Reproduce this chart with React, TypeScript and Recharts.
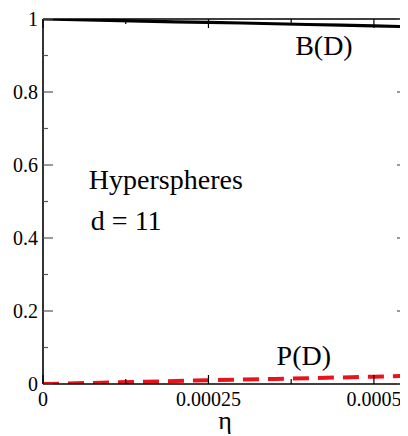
import React from 'react';
import { ComposedChart, Line, XAxis, YAxis, ReferenceDot } from 'recharts';

const etaValues = [0, 0.00005, 0.0001, 0.00015, 0.0002, 0.00025, 0.0003, 0.00035, 0.0004, 0.00045, 0.0005, 0.00055];
const bValues = [1.0, 0.998, 0.996, 0.994, 0.992, 0.9905, 0.989, 0.987, 0.985, 0.983, 0.981, 0.979];
const pValues = [0.0, 0.002, 0.004, 0.006, 0.008, 0.0105, 0.012, 0.014, 0.016, 0.018, 0.020, 0.022];

const xMajorTicks = [0, 0.00025, 0.0005];
const xMinorTicks = [0.000125, 0.000375];
const xTickLabels = ['0', '0.00025', '0.0005'];
const yMajorTicks = [0, 0.2, 0.4, 0.6, 0.8, 1];
const yMinorTicks = [0.1, 0.3, 0.5, 0.7, 0.9];
const yTickLabels = ['0', '0.2', '0.4', '0.6', '0.8', '1'];

const annotations = [
  { text: 'B(D)', eta: 0.000381, y: 0.901 },
  { text: 'P(D)', eta: 0.000353, y: 0.052 },
  { text: 'Hyperspheres', eta: 0.0000693, y: 0.534 },
  { text: 'd = 11', eta: 0.0000723, y: 0.422 },
];

const data = etaValues.map((eta, i) => ({ eta, B: bValues[i], P: pValues[i] }));

const FONT = "'Liberation Serif', 'Times New Roman', Times, serif";
const xTicks = [...xMajorTicks, ...xMinorTicks].sort((a, b) => a - b);
const yTicks = [...yMajorTicks, ...yMinorTicks].sort((a, b) => a - b);

const findIdx = (arr: number[], v: number) => arr.findIndex((t) => Math.abs(t - v) < 1e-9);

const txtStyle = (size: number) => ({ fontFamily: FONT, fontSize: size, fill: '#000' });

const BottomTick = (props: any) => {
  const { x, y, payload } = props;
  const idx = findIdx(xMajorTicks, payload.value);
  const major = idx >= 0;
  return (
    <g>
      <line x1={x} y1={y} x2={x} y2={y - (major ? 9 : 5)} stroke="#000" strokeWidth={1.2} />
      {major && (
        <text x={x} y={y + 22} textAnchor="middle" style={txtStyle(20)}>
          {xTickLabels[idx]}
        </text>
      )}
    </g>
  );
};

const TopTick = (props: any) => {
  const { x, y, payload } = props;
  const major = findIdx(xMajorTicks, payload.value) >= 0;
  return <line x1={x} y1={y} x2={x} y2={y + (major ? 9 : 5)} stroke="#000" strokeWidth={1.2} />;
};

const LeftTick = (props: any) => {
  const { x, y, payload } = props;
  const idx = findIdx(yMajorTicks, payload.value);
  const major = idx >= 0;
  return (
    <g>
      <line x1={x} y1={y} x2={x + (major ? 10 : 5)} y2={y} stroke="#555" strokeWidth={1.2} />
      {major && (
        <text x={x - 5} y={y + 7} textAnchor="end" style={txtStyle(20)}>
          {yTickLabels[idx]}
        </text>
      )}
    </g>
  );
};

const RightTick = (props: any) => {
  const { x, y, payload } = props;
  const major = findIdx(yMajorTicks, payload.value) >= 0;
  return <line x1={x} y1={y} x2={x - (major ? 10 : 5)} y2={y} stroke="#555" strokeWidth={1.2} />;
};

const AnnotationShape = (text: string) => (props: any) => (
  <text x={props.cx} y={props.cy} textAnchor="start" style={txtStyle(28)}>
    {text}
  </text>
);

const EtaLabel = (props: any) => {
  const vb = props.viewBox || { x: 0, y: 0, width: 0 };
  return (
    <text x={vb.x + vb.width / 2} y={vb.y + 45} textAnchor="middle" style={txtStyle(26)}>
      η
    </text>
  );
};

export default function App() {
  return (
    <ComposedChart
      width={400}
      height={428}
      data={data}
      margin={{ top: 10, right: 0, left: 34, bottom: 51 }}
      style={{ background: '#fff', fontFamily: FONT }}
    >
      <XAxis
        xAxisId="bottom"
        dataKey="eta"
        type="number"
        domain={[0, 0.00055]}
        allowDataOverflow
        ticks={xTicks}
        interval={0}
        height={1}
        tickSize={0}
        tickMargin={0}
        tickLine={false}
        tick={BottomTick}
        axisLine={{ stroke: '#000', strokeWidth: 1.6 }}
        label={{ content: EtaLabel }}
      />
      <XAxis
        xAxisId="top"
        orientation="top"
        dataKey="eta"
        type="number"
        domain={[0, 0.00055]}
        allowDataOverflow
        ticks={xTicks}
        interval={0}
        height={1}
        tickSize={0}
        tickMargin={0}
        tickLine={false}
        tick={TopTick}
        axisLine={{ stroke: '#000', strokeWidth: 1.6 }}
      />
      <YAxis
        yAxisId="left"
        type="number"
        domain={[0, 1]}
        allowDataOverflow
        ticks={yTicks}
        interval={0}
        width={1}
        tickSize={0}
        tickMargin={0}
        tickLine={false}
        tick={LeftTick}
        axisLine={{ stroke: '#000', strokeWidth: 1.6 }}
      />
      <YAxis
        yAxisId="right"
        orientation="right"
        type="number"
        domain={[0, 1]}
        allowDataOverflow
        ticks={yTicks}
        interval={0}
        width={1}
        tickSize={0}
        tickMargin={0}
        tickLine={false}
        tick={RightTick}
        axisLine={{ stroke: '#000', strokeWidth: 1.6 }}
      />
      <Line
        xAxisId="top"
        yAxisId="right"
        dataKey="B"
        type="linear"
        stroke="#000"
        strokeWidth={3.2}
        dot={false}
        isAnimationActive={false}
      />
      <Line
        xAxisId="bottom"
        yAxisId="left"
        dataKey="P"
        type="linear"
        stroke="#e8141c"
        strokeWidth={4}
        strokeDasharray="16 9"
        dot={false}
        isAnimationActive={false}
      />
      {annotations.map((a) => (
        <ReferenceDot
          key={a.text}
          xAxisId="bottom"
          yAxisId="left"
          x={a.eta}
          y={a.y}
          r={0}
          ifOverflow="visible"
          shape={AnnotationShape(a.text)}
        />
      ))}
    </ComposedChart>
  );
}
